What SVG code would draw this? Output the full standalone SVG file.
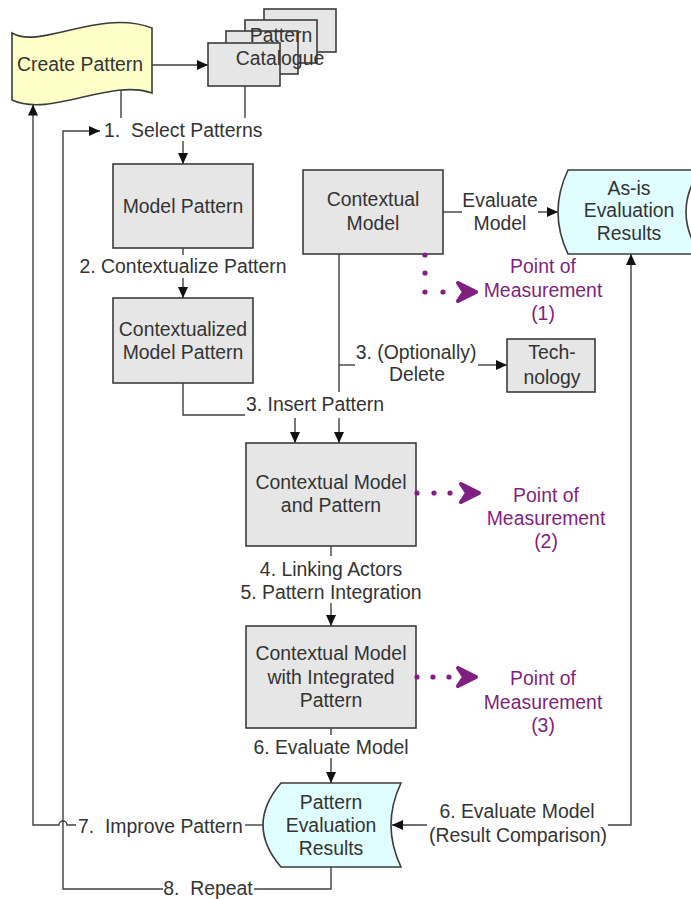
<svg xmlns="http://www.w3.org/2000/svg" xmlns:xlink="http://www.w3.org/1999/xlink" width="691" height="899" viewBox="0 0 691 899">
  <style>
    .box { fill: #e6e6e6; stroke: #3c3c3c; stroke-width: 1.6; }
    .tape { fill: #ffffc8; stroke: #3c3c3c; stroke-width: 1.6; }
    .data { fill: #e0fdff; stroke: #3c3c3c; stroke-width: 1.6; }
    .t { font-family: "Liberation Sans", Arial, sans-serif; font-size: 19.4px; fill: #333; text-anchor: middle; }
    .ts { text-anchor: start; }
    .pm { fill: #7f1f7f; }
    .c { fill: none; stroke: #404040; stroke-width: 1.4; }
    .dot { fill: #7f1f7f; }
    .mh { fill: #7f1f7f; stroke: #7f1f7f; stroke-width: 4; stroke-linejoin: round; stroke-linecap: round; }
  </style>
  <defs>
    <marker id="arr" markerUnits="userSpaceOnUse" markerWidth="12" markerHeight="10" refX="11" refY="5" orient="auto">
      <path d="M0,0 L11,5 L0,10 Z" fill="#111"/>
    </marker>
    <!-- measurement arrowhead, tip at origin -->
    <path id="mhead" d="M-20,-9 L-2,0 L-20,9 L-14,0 Z"/>
  </defs>

  <!-- connectors -->
  <g id="connectors" class="c">
    <path d="M152,65 L208,65" marker-end="url(#arr)"/>
    <path d="M121,89 L121,118"/>
    <path d="M245,86 L245,118"/>
    <path d="M183,141 L183,164" marker-end="url(#arr)"/>
    <path d="M183,248 L183,255"/>
    <path d="M183,278 L183,298" marker-end="url(#arr)"/>
    <path d="M183,383 L183,415 L245,415"/>
    <path d="M295,418 L295,443" marker-end="url(#arr)"/>
    <path d="M339,254 L339,392"/>
    <path d="M339,418 L339,443" marker-end="url(#arr)"/>
    <path d="M339,365 L355,365"/>
    <path d="M478,365 L507,365" marker-end="url(#arr)"/>
    <path d="M443,212 L462,212"/>
    <path d="M538,212 L558,212" marker-end="url(#arr)"/>
    <path d="M331,546 L331,556"/>
    <path d="M331,603 L331,626" marker-end="url(#arr)"/>
    <path d="M331,728 L331,735"/>
    <path d="M331,758 L331,783" marker-end="url(#arr)"/>
    <path d="M331,867 L331,889 L254,889"/>
    <path d="M163,889 L63,889 L63,131 L100,131" marker-end="url(#arr)"/>
    <path d="M263,825 L245,825"/>
    <path d="M76,825 L67,825 A4,4 0 0 0 59,825 L33,825 L33,104.5" marker-end="url(#arr)"/>
    <path d="M427,825 L392,825" marker-end="url(#arr)"/>
    <path d="M608,825 L631,825 L631,254" marker-end="url(#arr)"/>
  </g>

  <g id="node-create-pattern">
    <path class="tape" d="M12,33 C40,50 100,8 152,28 L152,93 C110,78 50,118 12,100 Z"/>
    <text class="t" x="80" y="64" dy="0.35em">Create Pattern</text>
  </g>

  <g id="node-pattern-catalogue">
    <rect class="box" x="264" y="9" width="72" height="43"/>
    <rect class="box" x="245" y="20" width="72" height="43"/>
    <rect class="box" x="226" y="31" width="72" height="43"/>
    <rect class="box" x="208" y="43" width="72" height="43"/>
    <text class="t" x="281" y="35" dy="0.35em">Pattern</text>
    <text class="t" x="280" y="58" dy="0.35em">Catalogue</text>
  </g>

  <g id="node-model-pattern">
    <rect class="box" x="113" y="164" width="140" height="84"/>
    <text class="t" x="183" y="206" dy="0.35em">Model Pattern</text>
  </g>

  <g id="node-contextualized-model-pattern">
    <rect class="box" x="113" y="298" width="140" height="85"/>
    <text class="t" x="183" y="329" dy="0.35em">Contextualized</text>
    <text class="t" x="183" y="352" dy="0.35em">Model Pattern</text>
  </g>

  <g id="node-contextual-model">
    <rect class="box" x="303" y="170" width="140" height="84"/>
    <text class="t" x="373" y="199" dy="0.35em">Contextual</text>
    <text class="t" x="373" y="223" dy="0.35em">Model</text>
  </g>

  <g id="node-asis-results">
    <path class="data" d="M568,170 L700,170 Q672,212 700,254 L568,254 Q548,212 568,170 Z"/>
    <text class="t" x="629" y="188" dy="0.35em">As-is</text>
    <text class="t" x="629" y="210" dy="0.35em">Evaluation</text>
    <text class="t" x="629" y="233" dy="0.35em">Results</text>
  </g>

  <g id="node-technology">
    <rect class="box" x="507" y="339" width="88" height="53"/>
    <text class="t" x="552" y="352" dy="0.35em">Tech-</text>
    <text class="t" x="552" y="377" dy="0.35em">nology</text>
  </g>

  <g id="node-contextual-model-and-pattern">
    <rect class="box" x="246" y="443" width="170" height="103"/>
    <text class="t" x="331" y="482" dy="0.35em">Contextual Model</text>
    <text class="t" x="331" y="505" dy="0.35em">and Pattern</text>
  </g>

  <g id="node-integrated-pattern">
    <rect class="box" x="246" y="626" width="170" height="102"/>
    <text class="t" x="331" y="653" dy="0.35em">Contextual Model</text>
    <text class="t" x="331" y="677" dy="0.35em">with Integrated</text>
    <text class="t" x="331" y="700" dy="0.35em">Pattern</text>
  </g>

  <g id="node-pattern-results">
    <path class="data" d="M281,783 L401,783 Q381,825 401,867 L281,867 Q245,825 281,783 Z"/>
    <text class="t" x="331" y="802" dy="0.35em">Pattern</text>
    <text class="t" x="331" y="825" dy="0.35em">Evaluation</text>
    <text class="t" x="331" y="848" dy="0.35em">Results</text>
  </g>

  <!-- points of measurement -->
  <g id="measure-1">
    <circle class="dot" cx="425" cy="255" r="2.6"/>
    <circle class="dot" cx="425" cy="273" r="2.6"/>
    <circle class="dot" cx="425" cy="292" r="2.6"/>
    <circle class="dot" cx="443" cy="292" r="2.6"/>
    <use xlink:href="#mhead" class="mh" transform="translate(478,292)"/>
    <text class="t pm" x="543" y="266" dy="0.35em">Point of</text>
    <text class="t pm" x="543" y="290" dy="0.35em">Measurement</text>
    <text class="t pm" x="543" y="313" dy="0.35em">(1)</text>
  </g>
  <g id="measure-2">
    <circle class="dot" cx="417" cy="493" r="2.6"/>
    <circle class="dot" cx="434" cy="493" r="2.6"/>
    <circle class="dot" cx="450" cy="493" r="2.6"/>
    <use xlink:href="#mhead" class="mh" transform="translate(481,493)"/>
    <text class="t pm" x="546" y="495" dy="0.35em">Point of</text>
    <text class="t pm" x="546" y="518" dy="0.35em">Measurement</text>
    <text class="t pm" x="546" y="541" dy="0.35em">(2)</text>
  </g>
  <g id="measure-3">
    <circle class="dot" cx="417" cy="677" r="2.6"/>
    <circle class="dot" cx="433" cy="677" r="2.6"/>
    <circle class="dot" cx="449" cy="677" r="2.6"/>
    <use xlink:href="#mhead" class="mh" transform="translate(478,677)"/>
    <text class="t pm" x="543" y="678" dy="0.35em">Point of</text>
    <text class="t pm" x="543" y="702" dy="0.35em">Measurement</text>
    <text class="t pm" x="543" y="725" dy="0.35em">(3)</text>
  </g>

  <!-- connector labels -->
  <g id="labels">
    <text class="t ts" x="104" y="130" dy="0.35em" xml:space="preserve">1.  Select Patterns</text>
    <text class="t" x="183" y="266" dy="0.35em">2. Contextualize Pattern</text>
    <text class="t" x="315" y="404" dy="0.35em">3. Insert Pattern</text>
    <text class="t" x="416" y="352" dy="0.35em">3. (Optionally)</text>
    <text class="t" x="417" y="374" dy="0.35em">Delete</text>
    <text class="t" x="500" y="200" dy="0.35em">Evaluate</text>
    <text class="t" x="500" y="223" dy="0.35em">Model</text>
    <text class="t" x="331" y="569" dy="0.35em">4. Linking Actors</text>
    <text class="t" x="331" y="592" dy="0.35em">5. Pattern Integration</text>
    <text class="t" x="331" y="747" dy="0.35em">6. Evaluate Model</text>
    <text class="t ts" x="78" y="826" dy="0.35em" xml:space="preserve">7.  Improve Pattern</text>
    <text class="t" x="517" y="811" dy="0.35em">6. Evaluate Model</text>
    <text class="t" x="518" y="835" dy="0.35em">(Result Comparison)</text>
    <text class="t" x="208" y="888" dy="0.35em" xml:space="preserve">8.  Repeat</text>
  </g>
</svg>
